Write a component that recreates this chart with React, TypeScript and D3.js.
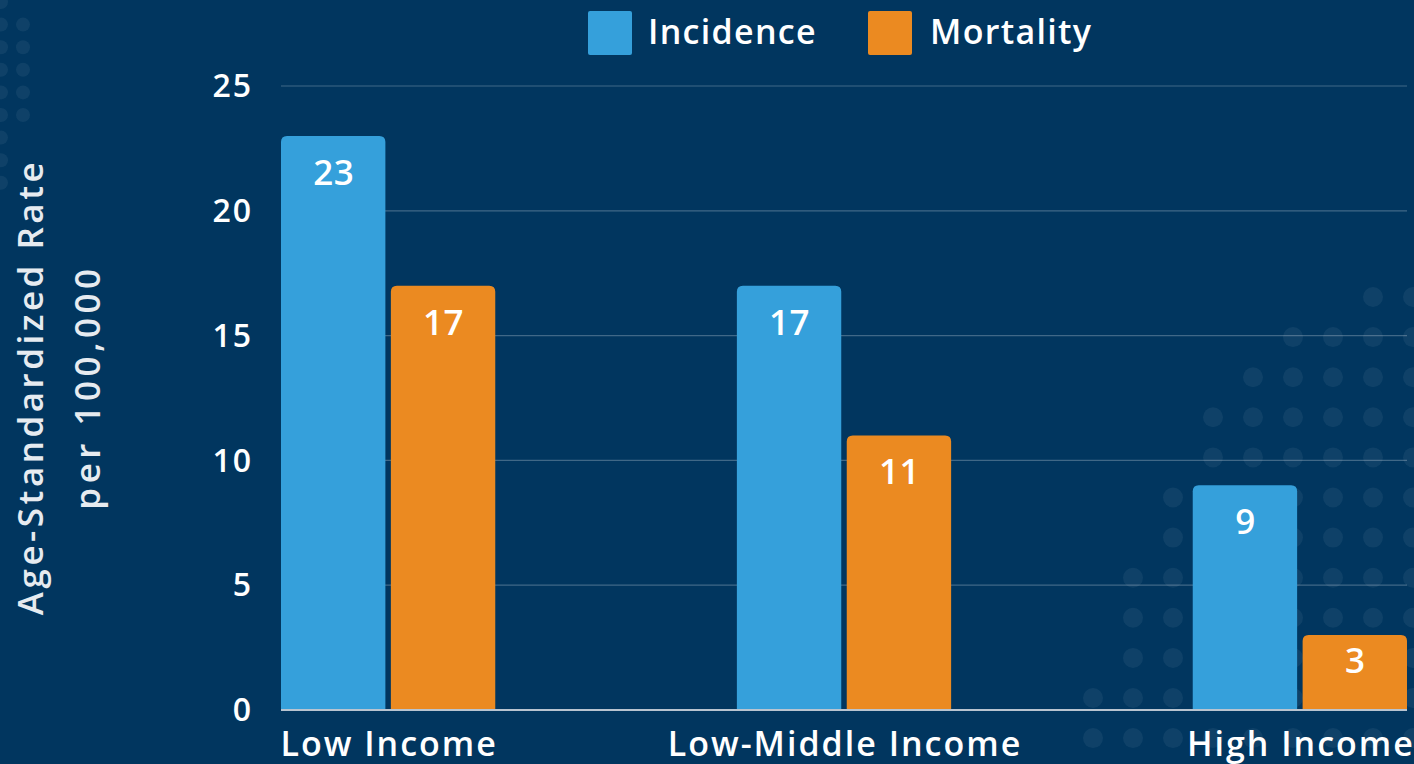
import { useRef, useEffect } from "react";
import * as d3 from "d3";

const categories = ["Low Income", "Low-Middle Income", "High Income"];
const seriesNames = ["Incidence", "Mortality"];
const incidence = [23, 17, 9];
const mortality = [17, 11, 3];
const yTicks = [0, 5, 10, 15, 20, 25];

const colors = ["#35a0db", "#eb8a21"];
const bg = "#01365f";
const font = "'Open Sans', sans-serif";

const App = () => {
  const container = useRef<HTMLDivElement>(null);

  useEffect(() => {
    const width = 1414;
    const height = 764;
    const m = { t: 86, b: 54, l: 281, r: 7 };

    const svg = d3
      .select(container.current)
      .selectAll("svg")
      .data([0])
      .join("svg")
      .attr("width", width)
      .attr("height", height)
      .style("display", "block");

    svg.selectAll("*").remove();

    svg.append("rect").attr("width", width).attr("height", height).attr("fill", bg);

    // decorative dots
    const dots = svg.append("g").attr("fill", "#ffffff").attr("fill-opacity", 0.06);
    const leftRows = d3.range(0, 9);
    leftRows.forEach((i) => {
      dots.append("circle").attr("cx", 1).attr("cy", 2 + i * 22.6).attr("r", 7);
      if (i >= 1 && i <= 5) dots.append("circle").attr("cx", 23).attr("cy", 2 + i * 22.6).attr("r", 7);
    });
    const rowStarts = [1373, 1293, 1253, 1213, 1213, 1173, 1173, 1133, 1133, 1133, 1093, 1093];
    rowStarts.forEach((start, i) => {
      const cy = 297 + i * 40.1;
      for (let cx = start; cx < width + 12; cx += 40) {
        dots.append("circle").attr("cx", cx).attr("cy", cy).attr("r", 10);
      }
    });

    const x0 = d3
      .scaleBand()
      .domain(categories)
      .range([m.l, width - m.r])
      .paddingInner(0.53)
      .paddingOuter(0);
    const x1 = d3
      .scaleBand()
      .domain(seriesNames)
      .range([0, x0.bandwidth()])
      .paddingInner(0.05);
    const y = d3.scaleLinear().domain([0, 25]).range([height - m.b, m.t]);

    // gridlines
    svg
      .append("g")
      .selectAll("line")
      .data(yTicks.filter((d) => d > 0))
      .join("line")
      .attr("x1", m.l)
      .attr("x2", width - m.r)
      .attr("y1", (d) => y(d))
      .attr("y2", (d) => y(d))
      .attr("stroke", "#ffffff")
      .attr("stroke-opacity", 0.25)
      .attr("stroke-width", 1.2);

    // y tick labels
    svg
      .append("g")
      .selectAll("text")
      .data(yTicks)
      .join("text")
      .attr("x", 253)
      .attr("y", (d) => y(d))
      .attr("dy", "0.35em")
      .attr("text-anchor", "end")
      .attr("fill", "#ffffff")
      .attr("font-family", font)
      .attr("font-weight", 600)
      .attr("font-size", 32)
      .attr("letter-spacing", 2)
      .text((d) => d);

    const rows = categories.map((c, i) => ({
      cat: c,
      vals: [
        { key: seriesNames[0], v: incidence[i] },
        { key: seriesNames[1], v: mortality[i] },
      ],
    }));

    const groups = svg
      .append("g")
      .selectAll("g")
      .data(rows)
      .join("g")
      .attr("transform", (d) => `translate(${x0(d.cat)},0)`);

    const r = 6;
    groups
      .selectAll("path")
      .data((d) => d.vals)
      .join("path")
      .attr("fill", (d, i) => colors[i])
      .attr("d", (d) => {
        const bx = x1(d.key)!;
        const bw = x1.bandwidth();
        const top = y(d.v);
        const bot = y(0);
        const p = d3.path();
        p.moveTo(bx, bot);
        p.lineTo(bx, top + r);
        p.quadraticCurveTo(bx, top, bx + r, top);
        p.lineTo(bx + bw - r, top);
        p.quadraticCurveTo(bx + bw, top, bx + bw, top + r);
        p.lineTo(bx + bw, bot);
        p.closePath();
        return p.toString();
      });

    // value labels sit near the top, centred in short bars
    groups
      .selectAll("text")
      .data((d) => d.vals)
      .join("text")
      .attr("x", (d) => x1(d.key)! + x1.bandwidth() / 2 + 0.5)
      .attr("y", (d) => y(d.v) + Math.min(49, (y(0) - y(d.v)) / 2))
      .attr("text-anchor", "middle")
      .attr("fill", "#ffffff")
      .attr("font-family", font)
      .attr("font-weight", 600)
      .attr("font-size", 35)
      .attr("letter-spacing", 0.5)
      .text((d) => d.v);

    // baseline
    svg
      .append("line")
      .attr("x1", m.l)
      .attr("x2", width - m.r)
      .attr("y1", y(0))
      .attr("y2", y(0))
      .attr("stroke", "#b8c4d0")
      .attr("stroke-width", 2);

    // category labels
    svg
      .append("g")
      .selectAll("text")
      .data(categories)
      .join("text")
      .attr("x", (d) => x0(d)! + x0.bandwidth() / 2 + 1)
      .attr("y", 756)
      .attr("text-anchor", "middle")
      .attr("fill", "#ffffff")
      .attr("font-family", font)
      .attr("font-weight", 600)
      .attr("font-size", 34)
      .attr("letter-spacing", 2)
      .text((d) => d);

    // y axis title
    const title = svg
      .append("text")
      .attr("transform", "translate(0,387) rotate(-90)")
      .attr("text-anchor", "middle")
      .attr("fill", "#e6ebf0")
      .attr("font-family", font)
      .attr("font-weight", 600)
      .attr("font-size", 35);
    title
      .append("tspan")
      .attr("x", 0)
      .attr("y", 43)
      .attr("letter-spacing", 3.5)
      .text("Age-Standardized Rate");
    title
      .append("tspan")
      .attr("x", 0)
      .attr("y", 100)
      .attr("letter-spacing", 4.5)
      .text("per 100,000");

    // legend
    const legendX = [588, 868];
    const legend = svg
      .append("g")
      .selectAll("g")
      .data(seriesNames)
      .join("g")
      .attr("transform", (d, i) => `translate(${legendX[i]},11)`);
    legend
      .append("rect")
      .attr("width", 44)
      .attr("height", 44)
      .attr("rx", 2)
      .attr("fill", (d, i) => colors[i]);
    legend
      .append("text")
      .attr("x", (d, i) => (i === 0 ? 60 : 62))
      .attr("y", 33)
      .attr("fill", "#ffffff")
      .attr("font-family", font)
      .attr("font-weight", 600)
      .attr("font-size", 34)
      .attr("letter-spacing", 1.3)
      .text((d) => d);
  });

  return <div ref={container} style={{ position: "absolute", left: 0, top: 0 }}></div>;
};

export default App;
